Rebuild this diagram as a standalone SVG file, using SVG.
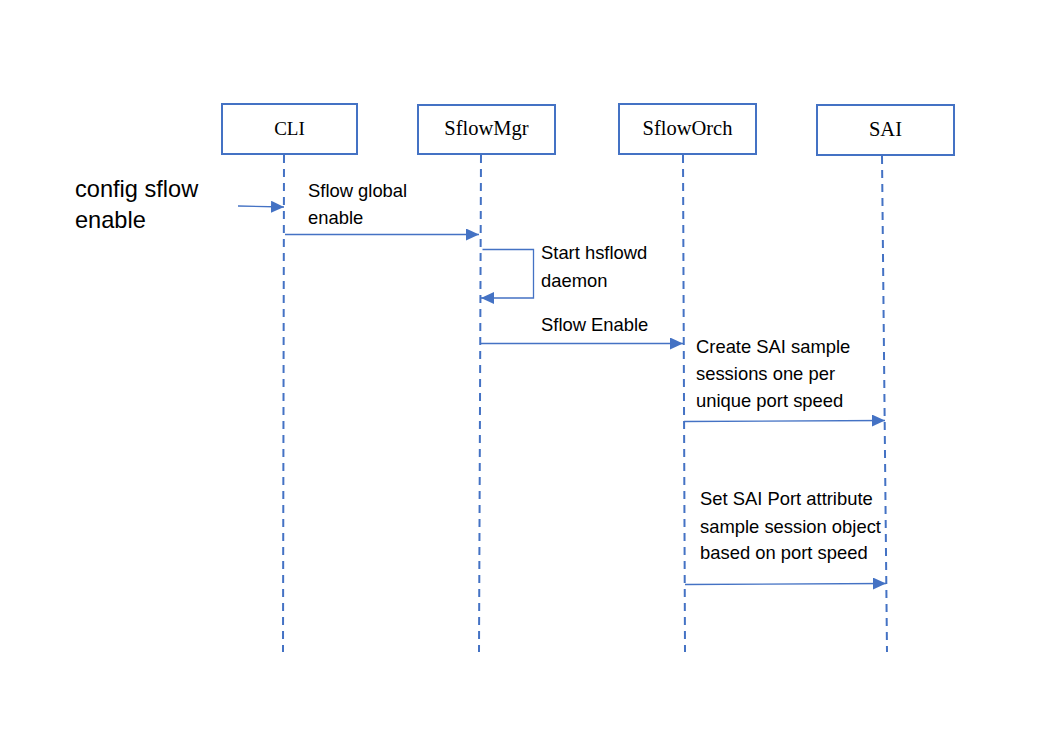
<svg xmlns="http://www.w3.org/2000/svg" width="1060" height="731" viewBox="0 0 1060 731">
<defs>
<marker id="ah" viewBox="0 0 12 12" refX="12" refY="6" markerWidth="13" markerHeight="12" markerUnits="userSpaceOnUse" orient="auto" preserveAspectRatio="none">
<path d="M0,0 L12,6 L0,12 Z" fill="#4472C4"/>
</marker>
<style>
.box{fill:#fff;stroke:#4472C4;stroke-width:2}
.lbl{font-family:"Liberation Serif","Times New Roman",serif;font-size:20.5px;fill:#000;text-anchor:middle}
.life{stroke:#4472C4;stroke-width:2;stroke-dasharray:8 6;fill:none}
.msg{stroke:#4472C4;stroke-width:1.3;fill:none;marker-end:url(#ah)}
.txt{font-family:"Liberation Sans",Arial,sans-serif;font-size:18.4px;fill:#000}
.big{font-family:"Liberation Sans",Arial,sans-serif;font-size:23.6px;fill:#000}
</style>
</defs>
<rect width="1060" height="731" fill="#fff"/>
<g id="lifelines">
<line class="life" x1="284" y1="155" x2="283" y2="652"/>
<line class="life" x1="481" y1="155" x2="479" y2="652"/>
<line class="life" x1="683" y1="155" x2="685" y2="652"/>
<line class="life" x1="882" y1="156" x2="887" y2="652"/>
</g>
<g id="node-cli">
<rect class="box" x="222" y="104" width="135" height="50"/>
<text class="lbl" x="289.5" y="135" style="font-size:19px">CLI</text>
</g>
<g id="node-sflowmgr">
<rect class="box" x="418" y="105" width="137" height="49"/>
<text class="lbl" x="486.5" y="135">SflowMgr</text>
</g>
<g id="node-sfloworch">
<rect class="box" x="619" y="104" width="137" height="50"/>
<text class="lbl" x="687.5" y="135">SflowOrch</text>
</g>
<g id="node-sai">
<rect class="box" x="817" y="105" width="137" height="50"/>
<text class="lbl" x="885.5" y="136">SAI</text>
</g>
<g id="connectors">
<line class="msg" x1="238" y1="206" x2="284" y2="207"/>
<line class="msg" x1="285" y1="234.5" x2="479" y2="234.5"/>
<polyline class="msg" points="482.5,249.5 533.5,249.5 533.5,298 481,298"/>
<line class="msg" x1="481" y1="343.5" x2="683" y2="343.5"/>
<line class="msg" x1="684" y1="421.5" x2="885" y2="420.5"/>
<line class="msg" x1="685" y1="584.5" x2="886" y2="583.5"/>
</g>
<g id="labels">
<text class="big" x="75" y="197">config sflow</text>
<text class="big" x="75" y="228">enable</text>
<text class="txt" x="308" y="197">Sflow global</text>
<text class="txt" x="308" y="224">enable</text>
<text class="txt" x="541" y="259">Start hsflowd</text>
<text class="txt" x="541" y="286.5">daemon</text>
<text class="txt" x="541" y="330.5">Sflow Enable</text>
<text class="txt" x="696" y="353">Create SAI sample</text>
<text class="txt" x="696" y="380">sessions one per</text>
<text class="txt" x="696" y="406.5">unique port speed</text>
<text class="txt" x="700" y="505">Set SAI Port attribute</text>
<text class="txt" x="700" y="532.5">sample session object</text>
<text class="txt" x="700" y="559">based on port speed</text>
</g>
</svg>
